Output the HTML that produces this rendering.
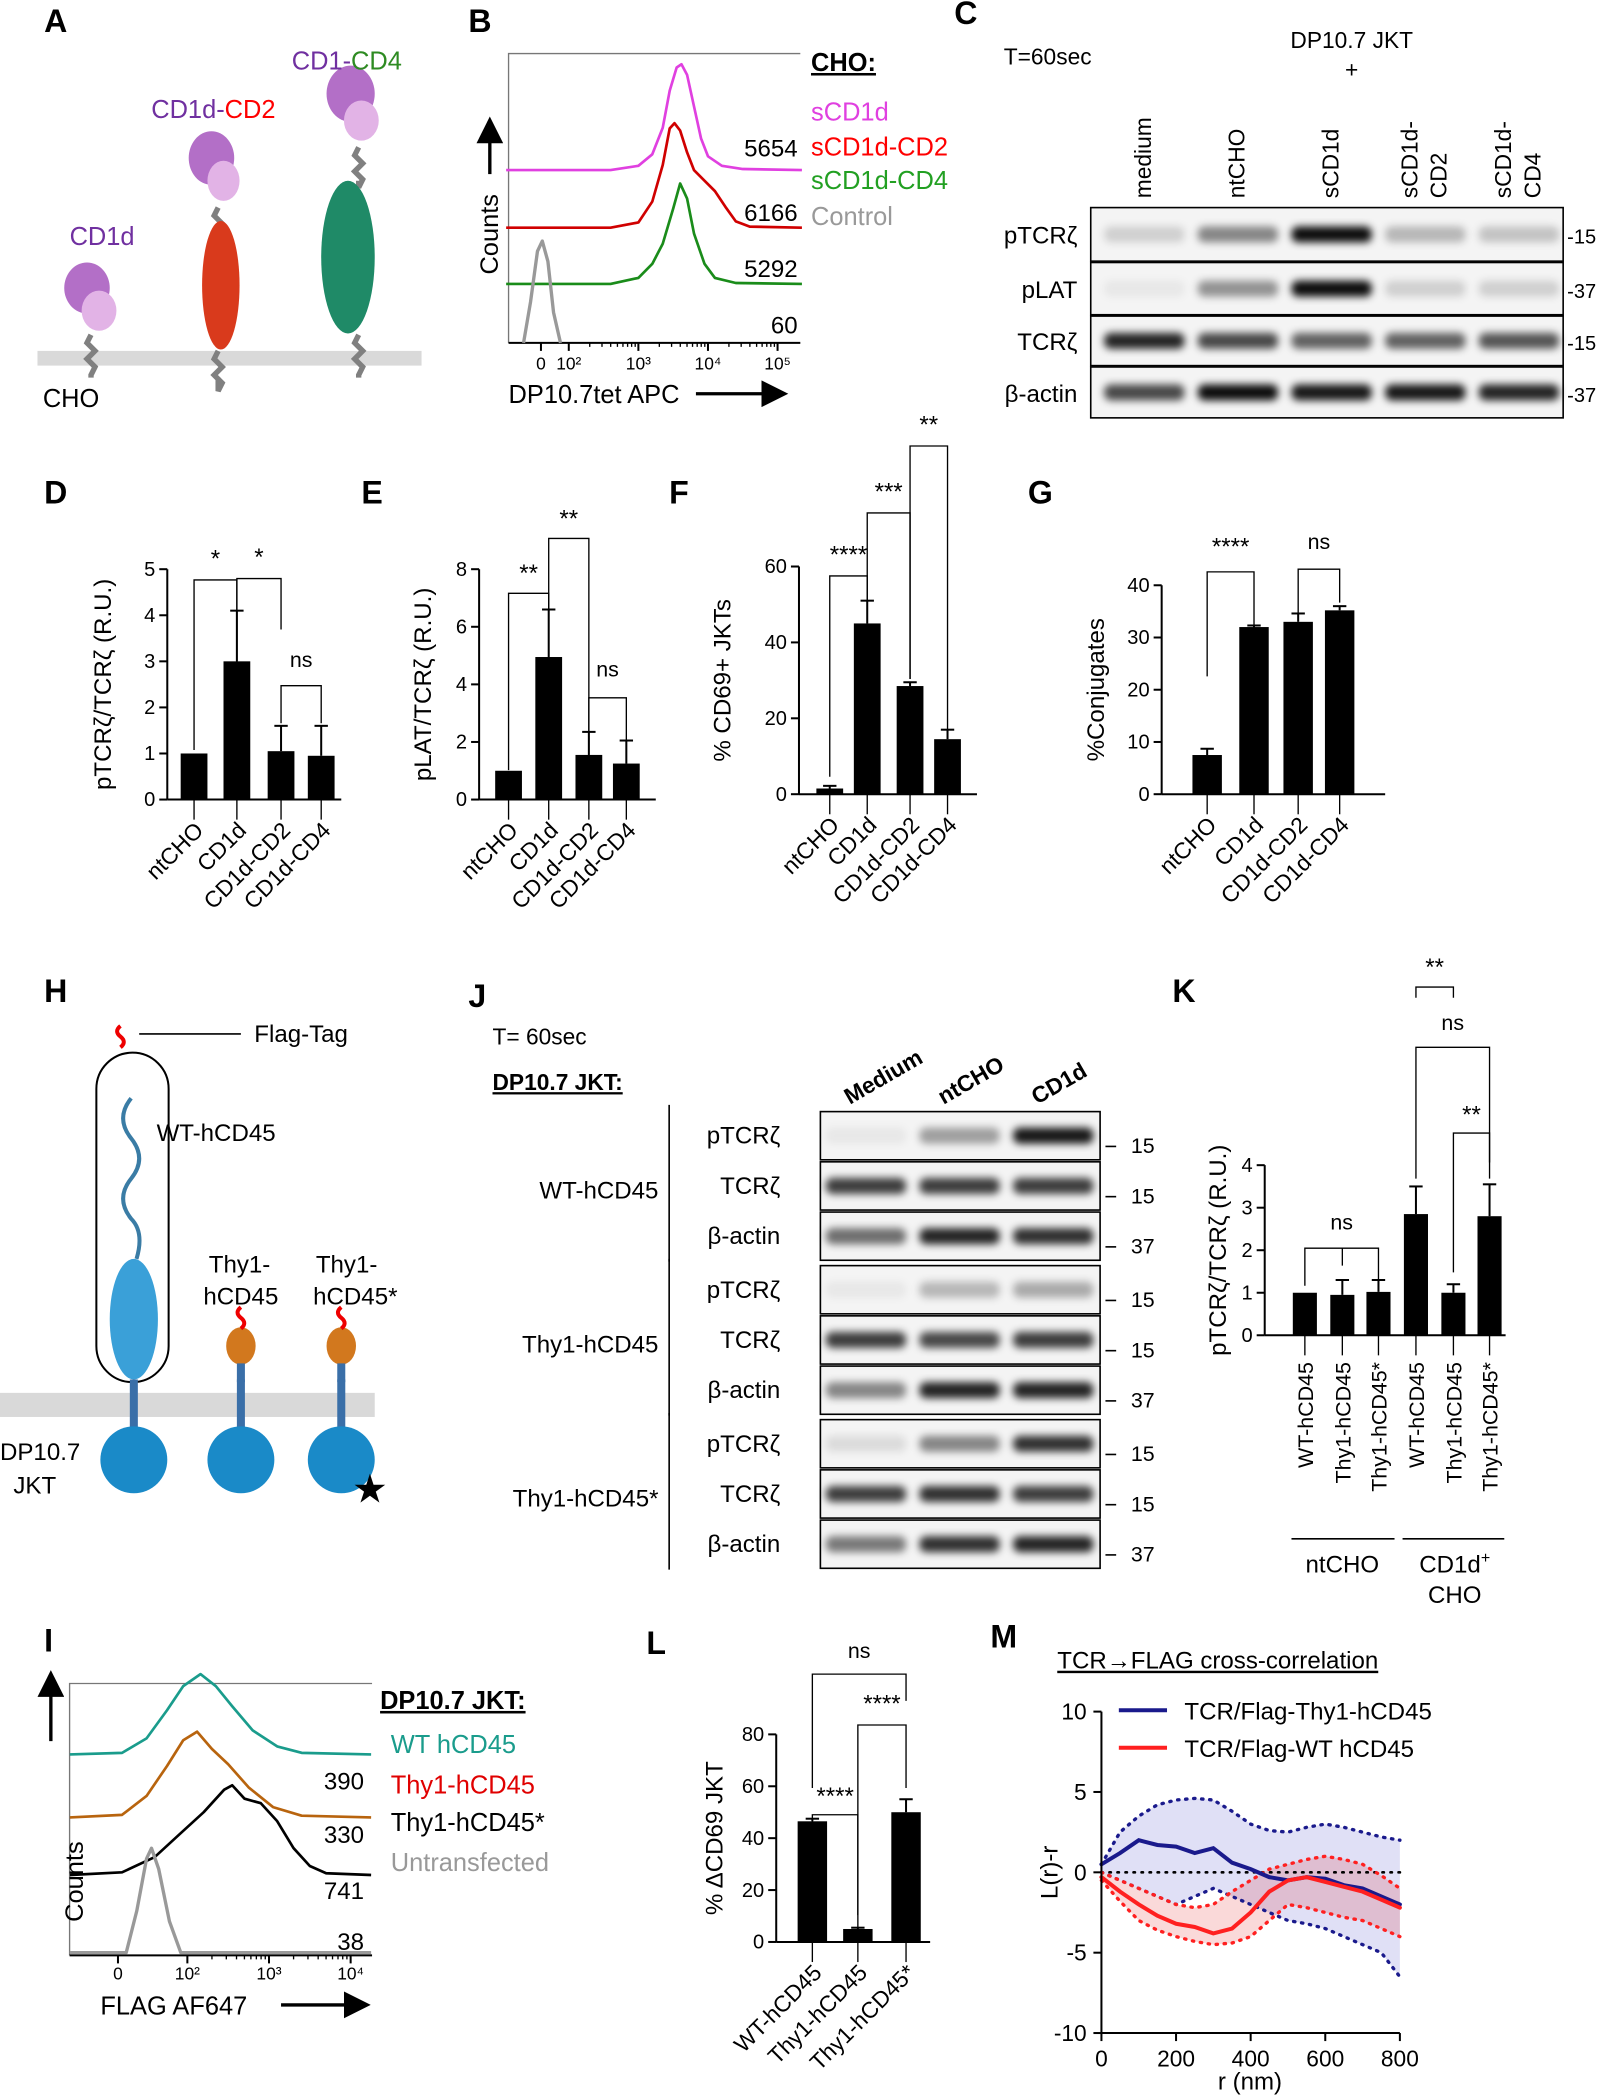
<!DOCTYPE html>
<html><head><meta charset="utf-8"><style>
html,body{margin:0;padding:0;background:#fff}
svg{display:block;font-family:"Liberation Sans",Arial,sans-serif}
</style></head><body>
<svg id="fig" width="1610" height="2100" viewBox="0 0 1203 1568" preserveAspectRatio="none" xmlns="http://www.w3.org/2000/svg">
<defs>
<filter id="blur" x="-20%" y="-50%" width="140%" height="200%"><feGaussianBlur stdDeviation="3"/></filter>
<marker id="arr" markerWidth="8" markerHeight="8" refX="6" refY="4" orient="auto"><path d="M0,0L8,4L0,8z" fill="#000"/></marker>
</defs>
<g id="root"></g>
</svg>
<script>
// ---------- DATA ----------
const dCats=["ntCHO","CD1d","CD1d-CD2","CD1d-CD4"];
const dVals=[1,3,1.05,0.95];
const dErrs=[1,4.1,1.6,1.6];
const dTicks=[0,1,2,3,4,5];
const eVals=[1,4.95,1.55,1.25];
const eErrs=[1,6.6,2.35,2.05];
const eTicks=[0,2,4,6,8];
const fVals=[1.5,45,28.5,14.5];
const fErrs=[2.2,51,29.5,17];
const fTicks=[0,20,40,60];
const gVals=[7.5,32,33,35.2];
const gErrs=[8.7,32.3,34.6,36];
const gTicks=[0,10,20,30,40];
const kCats=["WT-hCD45","Thy1-hCD45","Thy1-hCD45*","WT-hCD45","Thy1-hCD45","Thy1-hCD45*"];
const kVals=[1,0.95,1.02,2.85,1,2.8];
const kErrs=[1,1.3,1.3,3.5,1.2,3.55];
const kTicks=[0,1,2,3,4];
const lCats=["WT-hCD45","Thy1-hCD45","Thy1-hCD45*"];
const lVals=[46.5,5,50];
const lErrs=[47.5,5.5,55];
const lTicks=[0,20,40,60,80];
const mR=[0,50,100,150,200,250,300,350,400,450,500,550,600,650,700,750,800];
const mThy=[0.5,1.2,2,1.7,1.6,1.2,1.5,0.6,0.2,-0.3,-0.5,-0.3,-0.4,-0.8,-1,-1.5,-2];
const mThyHi=[0.5,2.5,3.5,4.2,4.5,4.6,4.5,3.8,3,2.6,2.5,2.8,3,2.8,2.5,2.2,2];
const mThyLo=[0,-0.5,-1,-1.5,-2,-1.5,-1,-1.5,-2,-2.5,-3,-3.2,-3.5,-4,-4.5,-5,-6.5];
const mWT=[-0.3,-1.2,-2,-2.7,-3.2,-3.4,-3.8,-3.5,-2.5,-1.2,-0.5,-0.3,-0.6,-0.9,-1.2,-1.7,-2.2];
const mWTHi=[0,-0.5,-1,-1.5,-2,-2.2,-2,-1.2,-0.5,0.2,0.5,0.8,1,0.8,0.5,-0.2,-1];
const mWTLo=[-0.5,-1.8,-3,-3.6,-4,-4.3,-4.5,-4.4,-4,-3,-2,-2.2,-2.5,-2.8,-3,-3.5,-4];
const mXTicks=[0,200,400,600,800];
const mYTicks=[-10,-5,0,5,10];
const bMag=[[1.1,0],[2.6,0],[3.0,0.04],[3.2,0.15],[3.35,0.4],[3.45,0.75],[3.55,0.97],[3.62,1],[3.7,0.9],[3.8,0.6],[3.9,0.3],[4.0,0.13],[4.2,0.04],[4.5,0.01],[5.35,0]];
const bRed=[[1.1,0],[2.6,0],[3.0,0.05],[3.2,0.25],[3.35,0.6],[3.45,0.95],[3.52,1],[3.6,0.93],[3.7,0.72],[3.8,0.55],[3.95,0.45],[4.1,0.35],[4.25,0.2],[4.4,0.06],[4.6,0.01],[5.35,0]];
const bGrn=[[1.1,0],[2.6,0],[3.0,0.06],[3.2,0.2],[3.35,0.4],[3.5,0.75],[3.6,1],[3.7,0.85],[3.8,0.5],[3.95,0.2],[4.1,0.06],[4.4,0.01],[5.35,0]];
const bGry=[[1.35,0],[1.45,0.4],[1.55,0.9],[1.62,1],[1.7,0.8],[1.78,0.3],[1.88,0]];
const iTeal=[[0.56,0],[1.2,0.02],[1.5,0.2],[1.75,0.55],[1.95,0.85],[2.16,1],[2.35,0.85],[2.55,0.6],[2.8,0.3],[3.1,0.1],[3.4,0.02],[4.25,0]];
const iOra=[[0.56,0],[1.2,0.03],[1.5,0.25],[1.75,0.6],[1.95,0.9],[2.12,1],[2.3,0.8],[2.5,0.62],[2.75,0.35],[3.05,0.12],[3.4,0.02],[4.25,0]];
const iBlk=[[0.56,0],[1.2,0.03],[1.6,0.2],[1.9,0.45],[2.2,0.7],[2.45,0.95],[2.55,1],[2.7,0.85],[2.9,0.8],[3.1,0.6],[3.3,0.3],[3.5,0.1],[3.7,0.02],[4.25,0]];
const iGry=[[0.56,0],[1.25,0],[1.38,0.4],[1.5,0.9],[1.56,1],[1.65,0.8],[1.78,0.3],[1.92,0],[4.25,0]];
const cRows=["pTCRζ","pLAT","TCRζ","β-actin"];
const cMarks=["-15","-37","-15","-37"];
const cBands=[[0.15,0.45,0.95,0.25,0.2],[0.05,0.4,0.95,0.15,0.15],[0.85,0.7,0.6,0.6,0.65],[0.7,0.95,0.9,0.9,0.85]];
const jGroups=["WT-hCD45","Thy1-hCD45","Thy1-hCD45*"];
const jRows=["pTCRζ","TCRζ","β-actin"];
const jMarks=["15","15","37"];
const jBands=[[[0.05,0.35,0.9],[0.75,0.75,0.75],[0.55,0.85,0.8]],[[0.05,0.25,0.3],[0.75,0.7,0.75],[0.45,0.85,0.85]],[[0.1,0.45,0.8],[0.75,0.8,0.75],[0.5,0.8,0.85]]];

// ---------- HELPERS ----------
const NS="http://www.w3.org/2000/svg";
const root=document.getElementById('root');
function el(tag,attrs,parent,txt){const e=document.createElementNS(NS,tag);for(const k in attrs)e.setAttribute(k,attrs[k]);if(txt!==undefined)e.textContent=txt;(parent||root).appendChild(e);return e;}
function grp(name){const g=el('g',{});return g;}
function txt(g,x,y,s,size,opts){opts=opts||{};const t=el('text',Object.assign({x:x,y:y,'font-size':size||16,fill:'#000'},opts),g,s);return t;}
function label(L,x,y){const g=grp('panel-label-'+L);txt(g,x,y,L,24,{'font-weight':'bold'});}
function line(g,x1,y1,x2,y2,w,c,extra){return el('line',Object.assign({x1:x1,y1:y1,x2:x2,y2:y2,stroke:c||'#000','stroke-width':w||1.5},extra||{}),g);}

function barChart(o){
  const g=grp(o.name);
  const ys=v=>o.y0-(v-o.t[0])/(o.t[o.t.length-1]-o.t[0])*(o.y0-o.y1);
  line(g,o.ax,o.y1,o.ax,o.y0,1.5);
  line(g,o.ax,o.y0,o.x2,o.y0,1.5);
  o.t.forEach(t=>{line(g,o.ax-6,ys(t),o.ax,ys(t),1.5);txt(g,o.ax-9,ys(t)+5,String(t),15,{'text-anchor':'end'});});
  o.vals.forEach((v,i)=>{
    const cx=o.bx[i];
    const r=el('rect',{x:cx-o.bw/2,y:ys(v),width:o.bw,height:o.y0-ys(v),fill:'#000'},g);
    
    
    if(o.errs[i]>v){line(g,cx,ys(o.errs[i]),cx,ys(v),1.5);line(g,cx-5,ys(o.errs[i]),cx+5,ys(o.errs[i]),1.5);}
    line(g,cx,o.y0,cx,o.y0+15,1);
    if(o.rot===-90){txt(g,cx+6,o.y0+20,o.cats[i],16,{'text-anchor':'end',transform:`rotate(-90 ${cx+6} ${o.y0+20})`});}
    else{const lx=cx+8,ly=o.y0+24;txt(g,lx,ly,o.cats[i],17,{'text-anchor':'end',transform:`rotate(-45 ${lx} ${ly})`});}
  });
  const yl=txt(g,o.ylx,(o.y0+o.y1)/2,o.ylab,18,{'text-anchor':'middle',transform:`rotate(-90 ${o.ylx} ${(o.y0+o.y1)/2})`});
  
  (o.sig||[]).forEach(s=>{
    const a=o.bx[s[0]],b=o.bx[s[1]],y=s[2];
    el('path',{d:`M${a},${s[3]}V${y}H${b}V${s[4]}`,fill:'none',stroke:'#000','stroke-width':1},g);
    txt(g,(a+b)/2,s[6]!==undefined?s[6]:y-5,s[5],s[5]==='ns'?16:18,{'text-anchor':'middle'});
  });
  return g;
}
function curve(g,pts,xf,y0,h,color,w){
  const d=pts.map((p,i)=>(i?'L':'M')+xf(p[0]).toFixed(1)+','+(y0-p[1]*h).toFixed(1)).join('');
  return el('path',{d:d,fill:'none',stroke:color,'stroke-width':w||2,'stroke-linejoin':'round'},g);
}

// ---------- PANEL A ----------
label('A',33,24);
(function(){
  const g=grp('panel-a-schematic');
  el('rect',{x:28,y:262,width:287,height:11,fill:'#d9d9d9'},g);
  txt(g,32,304,'CHO',19);
  const stick=(x,y1,y2)=>el('path',{d:`M${x},${y1} l-3,6 l6,6 l-6,6 l6,6 l-3,6 L${x},${y2}`,fill:'none',stroke:'#808080','stroke-width':4},g);
  const blob=(x,y,w,h,c)=>el('ellipse',{cx:x,cy:y,rx:w/2,ry:h/2,fill:c},g);
  stick(68,250,282);blob(65,215,34,38,'#b36fc7');blob(74,232,26,30,'#e2b3e6');
  stick(163,262,282);stick(163,155,170);blob(158,118,34,40,'#b36fc7');blob(167,135,24,30,'#e2b3e6');
  blob(165,213,28,96,'#d93a1c');
  stick(268,250,282);stick(268,110,135);blob(262,70,36,42,'#b36fc7');blob(270,90,26,30,'#e2b3e6');
  blob(260,192,40,114,'#1f8a67');
  txt(g,52,183,'CD1d',19,{fill:'#7030a0'});
  const t2=el('text',{x:113,y:88,'font-size':19},g);el('tspan',{fill:'#7030a0'},t2,'CD1d-');el('tspan',{fill:'#ff0000'},t2,'CD2');
  const t3=el('text',{x:218,y:52,'font-size':19},g);el('tspan',{fill:'#7030a0'},t3,'CD1-');el('tspan',{fill:'#2e8b22'},t3,'CD4');
})();

// ---------- PANEL B ----------
label('B',350,24);
(function(){
  const g=grp('panel-b-histogram');
  const bx=l=>425+(l-2)*52;
  el('path',{d:'M380,256V40H598',fill:'none',stroke:'#777','stroke-width':1},g);
  line(g,380,256,598,256,1.5);
  [[1.6,'0'],[2,'10²'],[3,'10³'],[4,'10⁴'],[5,'10⁵']].forEach(t=>{line(g,bx(t[0]),256,bx(t[0]),262,1.5);txt(g,bx(t[0]),276,t[1],13,{'text-anchor':'middle'});});
  for(let d=2;d<5;d++)for(let k=2;k<10;k++){const x=bx(d+Math.log10(k));line(g,x,256,x,259,1);}
  curve(g,bMag,bx,127,79,'#e040e0');
  curve(g,bRed,bx,170,78,'#d00000');
  curve(g,bGrn,bx,212,75,'#1a8c1a');
  curve(g,bGry,bx,256,76,'#999',2.5);
  [['5654',117],['6166',165],['5292',207],['60',249]].forEach(n=>txt(g,596,n[1],n[0],18,{'text-anchor':'end'}));
  txt(g,380,301,'DP10.7tet APC',19);
  line(g,520,294,584,294,2.5,'#000',{'marker-end':'url(#arr)'});
  txt(g,372,205,'Counts',19,{transform:'rotate(-90 372 205)'});
  line(g,366,130,366,92,2.5,'#000',{'marker-end':'url(#arr)'});
  const lg=grp('legend-b');
  txt(lg,606,53,'CHO:',19,{'font-weight':'bold','text-decoration':'underline'});
  [['sCD1d','#e040e0',90],['sCD1d-CD2','#ff0000',116],['sCD1d-CD4','#22a022',141],['Control','#999',168]].forEach(e=>txt(lg,606,e[2],e[0],19,{fill:e[1]}));
})();

// ---------- PANEL C ----------
label('C',713,18);
(function(){
  const g=grp('panel-c-western-blot');
  txt(g,750,48,'T=60sec',17);
  txt(g,1010,36,'DP10.7 JKT',17,{'text-anchor':'middle'});
  txt(g,1010,58,'+',17,{'text-anchor':'middle'});
  const lanes=[855,925,995,1065,1135];
  const cols=[['medium'],['ntCHO'],['sCD1d'],['sCD1d-','CD2'],['sCD1d-','CD4']];
  cols.forEach((c,i)=>c.forEach((s,j)=>{const x=lanes[i]+5+(j-(c.length-1)/2)*22;txt(g,x,148,s,17,{transform:`rotate(-90 ${x} 148)`});}));
  const rowY=[155,196,236,274],rowH=[40,39,37,38];
  cRows.forEach((r,i)=>{
    el('rect',{x:815,y:rowY[i],width:353,height:rowH[i],fill:'#f4f4f4',stroke:'#000','stroke-width':1.2},g);
    cBands[i].forEach((v,k)=>{const b=el('rect',{x:lanes[k]-30,y:rowY[i]+rowH[i]/2-6,width:60,height:12,rx:5,fill:'#000','fill-opacity':v,filter:'url(#blur)'},g);});
    txt(g,805,rowY[i]+rowH[i]/2+7,r,18,{'text-anchor':'end'});
    txt(g,1171,rowY[i]+rowH[i]/2+7,cMarks[i],15);
  });
})();

// ---------- PANELS D-G ----------
label('D',33,376);label('E',270,376);label('F',500,376);label('G',768,376);
barChart({name:'panel-d-chart',cats:dCats,vals:dVals,errs:dErrs,t:dTicks,ax:125,x2:255,y0:597,y1:425,bx:[145,177,210,240],bw:20,ylx:83,ylab:'pTCRζ/TCRζ (R.U.)',
  sig:[[0,1,433,560,520,'*',423],[1,2,432,510,470,'*',422],[2,3,512,540,540,'ns',498]]});
barChart({name:'panel-e-chart',cats:dCats,vals:eVals,errs:eErrs,t:eTicks,ax:358,x2:490,y0:597,y1:425,bx:[380,410,440,468],bw:20,ylx:322,ylab:'pLAT/TCRζ (R.U.)',
  sig:[[0,1,443,575,533,'**',434],[1,2,402,520,575,'**',393],[2,3,521,560,560,'ns',505]]});
barChart({name:'panel-f-chart',cats:dCats,vals:fVals,errs:fErrs,t:fTicks,ax:597,x2:730,y0:593,y1:423,bx:[620,648,680,708],bw:20,ylx:546,ylab:'% CD69+ JKTs',
  sig:[[0,1,430,580,458,'****',420],[1,2,383,458,507,'***',373],[2,3,333,507,548,'**',323]]});
barChart({name:'panel-g-chart',cats:dCats,vals:gVals,errs:gErrs,t:gTicks,ax:868,x2:1035,y0:593,y1:437,bx:[902,937,970,1001],bw:22,ylx:825,ylab:'%Conjugates',
  sig:[[0,1,427,505,475,'****',414],[2,3,425,460,450,'ns',410]]});

// ---------- PANEL H ----------
label('H',33,748);
(function(){
  const g=grp('panel-h-schematic');
  el('rect',{x:0,y:1040,width:280,height:18,fill:'#d9d9d9'},g);
  const sq=(x,y)=>el('path',{d:`M${x},${y} q5,-4 0,-8 q-5,-4 0,-8`,fill:'none',stroke:'#e00','stroke-width':3},g);
  sq(90,782);line(g,104,772,180,772,1.2);txt(g,190,778,'Flag-Tag',18);
  el('rect',{x:72,y:786,width:54,height:246,rx:27,fill:'none',stroke:'#000','stroke-width':1.5},g);
  el('path',{d:'M98,820 q-12,15 0,30 q12,15 0,30 q-12,15 0,30 q10,10 4,30',fill:'none',stroke:'#3a7ca5','stroke-width':3},g);
  el('ellipse',{cx:100,cy:985,rx:18,ry:45,fill:'#3aa0d8'},g);
  txt(g,117,852,'WT-hCD45',18);
  [[100],[180],[255]].forEach(p=>{const x=p[0];el('rect',{x:x-3,y:1030,width:6,height:36,fill:'#3a6fa8'},g);el('ellipse',{cx:x,cy:1090,rx:25,ry:25,fill:'#1a8ac8'},g);});
  [180,255].forEach(x=>{el('ellipse',{cx:x,cy:1005,rx:11,ry:14,fill:'#d2781e'},g);el('rect',{x:x-3,y:1018,width:6,height:14,fill:'#3a6fa8'},g);sq(x,992);});
  txt(g,156,950,'Thy1-',18);txt(g,152,974,'hCD45',18);
  txt(g,236,950,'Thy1-',18);txt(g,234,974,'hCD45*',18);
  txt(g,0,1090,'DP10.7',18);txt(g,10,1115,'JKT',18);
  txt(g,263,1122,'★',30);
})();

// ---------- PANEL J ----------
label('J',350,752);
(function(){
  const g=grp('panel-j-western-blot');
  txt(g,368,780,'T= 60sec',17);
  txt(g,368,814,'DP10.7 JKT:',17,{'font-weight':'bold','text-decoration':'underline'});
  const lanes=[647,717,787];
  ['Medium','ntCHO','CD1d'].forEach((s,i)=>txt(g,lanes[i]-12,825,s,17,{'font-weight':'bold',transform:`rotate(-30 ${lanes[i]-12} 825)`}));
  const gy=[830,945,1060];
  jGroups.forEach((gn,gi)=>{
    const y0=gy[gi];
    line(g,500,y0-5,500,y0+112,1.2);
    txt(g,492,y0+65,gn,18,{'text-anchor':'end'});
    jRows.forEach((r,ri)=>{
      const y=y0+ri*37.5;
      el('rect',{x:613,y:y,width:209,height:36,fill:'#f4f4f4',stroke:'#000','stroke-width':1.2},g);
      jBands[gi][ri].forEach((v,k)=>{const b=el('rect',{x:lanes[k]-30,y:y+12,width:60,height:12,rx:5,fill:'#000','fill-opacity':v,filter:'url(#blur)'},g);});
      txt(g,583,y+24,r,18,{'text-anchor':'end'});
      line(g,826,y+26,834,y+26,1.2);
      txt(g,845,y+31,jMarks[ri],16);
    });
  });
})();

// ---------- PANEL K ----------
label('K',876,748);
barChart({name:'panel-k-chart',cats:kCats,vals:kVals,errs:kErrs,t:kTicks,ax:945,x2:1125,y0:997,y1:870,bx:[975,1003,1030,1058,1086,1113],bw:18,ylx:916,ylab:'pTCRζ/TCRζ (R.U.)',rot:-90,
  sig:[[0,2,932,960,955,'ns',918],[3,4,737,745,745,'**',728],[3,5,782,880,880,'ns',769],[4,5,846,950,868,'**',838]]});
(function(){
  const g=grp('panel-k-groups');
  line(g,1003,932,1003,945,1);
  line(g,965,1149,1042,1149,1.2);txt(g,1003,1174,'ntCHO',18,{'text-anchor':'middle'});
  line(g,1048,1149,1124,1149,1.2);
  const t=el('text',{x:1087,y:1174,'font-size':18,'text-anchor':'middle'},g);t.textContent='CD1d';el('tspan',{dy:-7,'font-size':12},t,'+');
  txt(g,1087,1197,'CHO',18,{'text-anchor':'middle'});
})();

// ---------- PANEL I ----------
label('I',33,1233);
(function(){
  const g=grp('panel-i-histogram');
  const ix=l=>140+(l-2)*61;
  el('path',{d:'M52,1460V1257H278',fill:'none',stroke:'#777','stroke-width':1},g);
  line(g,52,1460,278,1460,1.5);
  [[1.15,'0'],[2,'10²'],[3,'10³'],[4,'10⁴']].forEach(t=>{line(g,ix(t[0]),1460,ix(t[0]),1466,1.5);txt(g,ix(t[0]),1478,t[1],13,{'text-anchor':'middle'});});
  for(let d=2;d<4.3;d++)for(let k=2;k<10;k++){const x=ix(d+Math.log10(k));if(x<278)line(g,x,1460,x,1463,1);}
  curve(g,iTeal,ix,1310,60,'#1a9c8c');
  curve(g,iOra,ix,1357,64,'#b8640e');
  curve(g,iBlk,ix,1400,67,'#000');
  curve(g,iGry,ix,1458,78,'#999',2.5);
  [['390',1336],['330',1376],['741',1418],['38',1456]].forEach(n=>txt(g,272,n[1],n[0],18,{'text-anchor':'end'}));
  txt(g,75,1504,'FLAG AF647',19);
  line(g,210,1497,272,1497,2.5,'#000',{'marker-end':'url(#arr)'});
  txt(g,62,1435,'Counts',19,{transform:'rotate(-90 62 1435)'});
  line(g,38,1300,38,1252,2.5,'#000',{'marker-end':'url(#arr)'});
  const lg=grp('legend-i');
  txt(lg,284,1276,'DP10.7 JKT:',19,{'font-weight':'bold','text-decoration':'underline'});
  [['WT hCD45','#1a9c8c',1309],['Thy1-hCD45','#e00000',1339],['Thy1-hCD45*','#000',1367],['Untransfected','#999',1397]].forEach(e=>txt(lg,292,e[2],e[0],19,{fill:e[1]}));
})();

// ---------- PANEL L ----------
label('L',483,1235);
barChart({name:'panel-l-chart',cats:lCats,vals:lVals,errs:lErrs,t:lTicks,ax:580,x2:695,y0:1450,y1:1295,bx:[607,641,677],bw:22,ylx:540,ylab:'% ΔCD69 JKT',
  sig:[[0,1,1355,1435,1440,'****',1347],[1,2,1288,1430,1335,'****',1278],[0,2,1250,1335,1270,'ns',1238]]});

// ---------- PANEL M ----------
label('M',740,1230);
(function(){
  const g=grp('panel-m-chart');
  const mx=r=>823+r/800*223;
  const my=v=>1398-v*12;
  txt(g,790,1246,'TCR→FLAG cross-correlation',18,{'text-decoration':'underline'});
  const band=(hi,lo,c)=>{const d='M'+mR.map((r,i)=>mx(r)+','+my(hi[i])).join('L')+'L'+mR.slice().reverse().map((r,i)=>mx(r)+','+my(lo[mR.length-1-i])).join('L')+'Z';el('path',{d:d,fill:c,'fill-opacity':0.15,stroke:'none'},g);};
  band(mThyHi,mThyLo,'#3030c0');band(mWTHi,mWTLo,'#e00000');
  const pl=(arr,c,w,dash,name)=>{const p=el('path',{d:'M'+mR.map((r,i)=>mx(r).toFixed(1)+','+my(arr[i]).toFixed(1)).join('L'),fill:'none',stroke:c,'stroke-width':w,'stroke-dasharray':dash||'none','stroke-linecap':'round'},g);};
  pl(mR.map(()=>0),'#000',2,'1 5','envelope-median');
  pl(mThyHi,'#1a1a8c',2.5,'1 5','thy1-envelope-hi');pl(mThyLo,'#1a1a8c',2.5,'1 5','thy1-envelope-lo');
  pl(mWTHi,'#ff2020',2.5,'1 5','wt-envelope-hi');pl(mWTLo,'#ff2020',2.5,'1 5','wt-envelope-lo');
  pl(mThy,'#1a1a8c',3,null,'line-thy1-hcd45');pl(mWT,'#ff2020',3,null,'line-wt-hcd45');
  line(g,823,my(10),823,my(-10),1.5);line(g,823,my(-10),1046,my(-10),1.5);
  mYTicks.forEach(t=>{line(g,817,my(t),823,my(t),1.5);txt(g,812,my(t)+6,String(t),17,{'text-anchor':'end'});});
  mXTicks.forEach(t=>{line(g,mx(t),my(-10),mx(t),my(-10)+6,1.5);txt(g,mx(t),my(-10)+25,String(t),17,{'text-anchor':'middle'});});
  txt(g,934,1560,'r (nm)',18,{'text-anchor':'middle'});
  txt(g,790,1398,'L(r)-r',18,{'text-anchor':'middle',transform:'rotate(-90 790 1398)'});
  const lg=grp('legend-m');
  line(lg,836,1277,872,1277,3,'#1a1a8c');txt(lg,885,1284,'TCR/Flag-Thy1-hCD45',18);
  line(lg,836,1305,872,1305,3,'#ff2020');txt(lg,885,1312,'TCR/Flag-WT hCD45',18);
})();
</script>
</body></html>
